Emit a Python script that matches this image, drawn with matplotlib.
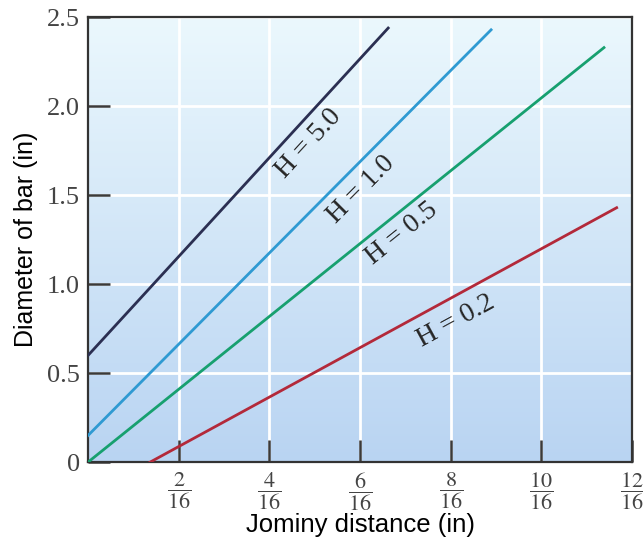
import numpy as np
import matplotlib.pyplot as plt
from matplotlib.colors import LinearSegmentedColormap

plt.rcParams['mathtext.fontset'] = 'stix'

# x in sixteenths of an inch, y = bar diameter (in)
labels = ["H = 5.0", "H = 1.0", "H = 0.5", "H = 0.2"]
x_start = [0.0, 0.0, 0.0, 1.37]
y_start = [0.60, 0.15, 0.0, 0.0]
x_end = [6.62, 8.89, 11.38, 11.66]
y_end = [2.44, 2.43, 2.33, 1.43]
colors = ["#2b2f52", "#2f9ad2", "#17a06f", "#b3293a"]

# where the H labels sit
lab_x = [4.87, 6.02, 6.92, 8.12]
lab_y = [1.79, 1.53, 1.285, 0.795]

xticks = [2, 4, 6, 8, 10, 12]
xtick_labels = [r"$\dfrac{%d}{16}$" % v for v in xticks]
yticks = [0, 0.5, 1.0, 1.5, 2.0, 2.5]
ytick_labels = ["0", "0.5", "1.0", "1.5", "2.0", "2.5"]

fig = plt.figure(figsize=(6.43, 5.43), dpi=100)
ax = fig.add_axes([0.137, 0.149, 0.846, 0.819])

ax.set_xlim(0, 12)
ax.set_ylim(0, 2.5)

# soft vertical gradient background
grad = np.linspace(0, 1, 256).reshape(-1, 1)
cmap = LinearSegmentedColormap.from_list("bg", ["#b9d4f2", "#ebf8fd"])
ax.imshow(grad, cmap=cmap, origin="lower", extent=[0, 12, 0, 2.5],
          aspect="auto", zorder=0)

ax.set_axisbelow(True)
ax.grid(True, color="white", linewidth=2)

for i in range(len(labels)):
    ax.plot([x_start[i], x_end[i]], [y_start[i], y_end[i]],
            color=colors[i], linewidth=2, zorder=3)

fig.canvas.draw()
for i in range(len(labels)):
    p0 = ax.transData.transform((x_start[i], y_start[i]))
    p1 = ax.transData.transform((x_end[i], y_end[i]))
    ang = np.degrees(np.arctan2(p1[1] - p0[1], p1[0] - p0[0]))
    ax.text(lab_x[i], lab_y[i], labels[i], rotation=ang, ha="center",
            va="center", rotation_mode="anchor", fontsize=20,
            family="Liberation Serif", color="#262626", zorder=4)

ax.set_xticks(xticks)
ax.set_xticklabels(xtick_labels, fontsize=16, color="#444444")
ax.set_yticks(yticks)
ax.set_yticklabels(ytick_labels, fontsize=19, color="#444444",
                   family="Liberation Serif")
ax.tick_params(direction="in", length=16, width=1.8, color="#3a3a3a",
               pad=6)
ax.tick_params(axis="x", pad=6)

for s in ax.spines.values():
    s.set_color("#333333")
    s.set_linewidth(1.6)

ax.set_xlabel("Jominy distance (in)", fontsize=18.5,
              family="Liberation Sans", labelpad=0)
ax.set_ylabel("Diameter of bar (in)", fontsize=18,
              family="Liberation Sans", labelpad=6)

fig.savefig("out.png", dpi=100)
